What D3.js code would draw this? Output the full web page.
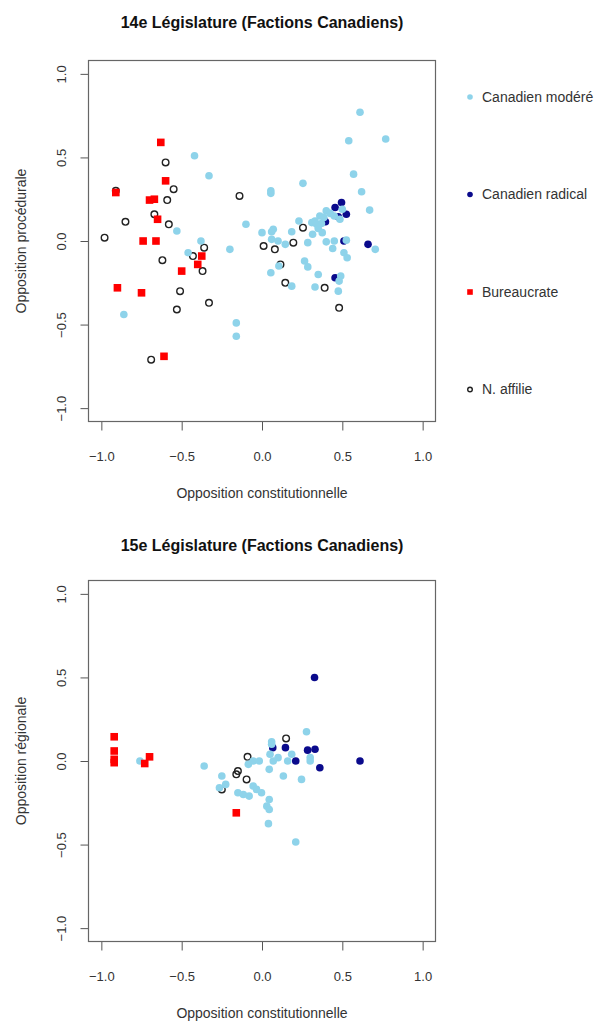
<!DOCTYPE html>
<html>
<head>
<meta charset="utf-8">
<script src="https://cdn.jsdelivr.net/npm/d3@7"></script>
<style>
  body { margin: 0; background: #fff; }
  svg { display: block; font-family: "Liberation Sans", Arial, sans-serif; }
</style>
</head>
<body>
<div id="chart"></div>
<script>
// ---------------------------
// Data
// ---------------------------
const ticks = [-1, -0.5, 0, 0.5, 1];
const factions = ["Canadien modéré", "Canadien radical", "Bureaucrate", "N. affilie"];

// 14e législature: [opposition constitutionnelle, opposition procédurale]
const moderes14 = [
  [-0.42, 0.51], [-0.33, 0.39], [-0.53, 0.06], [-0.10, 0.10], [0.0, 0.05], [-0.38, 0.0],
  [-0.46, -0.07], [-0.20, -0.05], [-0.86, -0.44], [-0.16, -0.49], [-0.16, -0.57],
  [0.61, 0.77], [0.54, 0.60], [0.77, 0.61], [0.57, 0.40], [0.255, 0.345], [0.055, 0.30],
  [0.055, 0.285], [0.62, 0.295], [0.67, 0.185], [0.40, 0.18], [0.425, 0.165], [0.36, 0.15],
  [0.31, 0.11], [0.34, 0.10], [0.37, 0.105], [0.385, 0.14], [0.23, 0.12], [0.185, 0.055],
  [0.315, 0.04], [0.375, 0.05], [0.06, 0.055], [0.07, 0.07], [0.06, 0.01], [0.10, 0.0],
  [0.145, -0.02], [0.285, -0.01], [0.40, -0.005], [0.45, 0.0], [0.525, 0.005], [0.44, -0.045],
  [0.705, -0.05], [0.51, -0.07], [0.53, -0.10], [0.265, -0.12], [0.285, -0.155], [0.105, -0.15],
  [0.055, -0.19], [0.35, -0.20], [0.49, -0.21], [0.48, -0.24], [0.475, -0.30], [0.185, -0.27],
  [0.33, -0.275], [0.33, 0.12], [0.35, 0.075], [0.45, 0.15], [0.485, 0.13], [0.50, 0.19]
];
const radicaux14 = [
  [0.495, 0.23], [0.455, 0.20], [0.525, 0.16], [0.475, 0.145], [0.395, 0.115],
  [0.51, 0.0], [0.66, -0.02], [0.455, -0.22]
];
const bureaucrates14 = [
  [-0.63, 0.59], [-0.60, 0.36], [-0.91, 0.29], [-0.70, 0.245], [-0.67, 0.25], [-0.65, 0.13],
  [-0.74, 0.0], [-0.66, 0.0], [-0.375, -0.09], [-0.40, -0.14], [-0.50, -0.18], [-0.90, -0.28],
  [-0.75, -0.31], [-0.61, -0.69]
];
const affilies14 = [
  [-0.60, 0.47], [-0.55, 0.31], [-0.91, 0.30], [-0.59, 0.245], [-0.14, 0.27], [-0.67, 0.16],
  [-0.85, 0.115], [-0.58, 0.10], [-0.98, 0.02], [-0.36, -0.04], [-0.43, -0.09], [-0.37, -0.18],
  [-0.62, -0.115], [-0.51, -0.30], [-0.33, -0.37], [-0.53, -0.41], [-0.69, -0.71], [0.01, -0.03],
  [0.255, 0.08], [0.195, -0.01], [0.08, -0.05], [0.115, -0.14], [0.145, -0.25], [0.39, -0.28],
  [0.48, -0.40]
];

// 15e législature: [opposition constitutionnelle, opposition régionale]
const moderes15 = [
  [-0.76, 0.0], [-0.36, -0.03], [-0.25, -0.09], [-0.265, -0.16], [-0.226, -0.14], [-0.085, -0.02],
  [-0.055, 0.0], [-0.017, 0.0], [-0.055, -0.15], [-0.034, -0.17], [-0.003, -0.19], [-0.15, -0.19],
  [-0.116, -0.20], [-0.08, -0.21], [0.03, -0.27], [0.045, -0.29], [0.045, -0.23], [0.04, -0.375],
  [0.21, -0.485], [0.277, 0.175], [0.06, 0.115], [0.06, 0.10], [0.05, 0.04], [0.10, 0.02],
  [0.185, 0.04], [0.16, 0.0], [0.30, 0.02], [0.30, 0.0], [0.07, 0.0], [0.045, -0.05],
  [0.133, -0.09], [0.246, -0.11]
];
const radicaux15 = [
  [0.327, 0.50], [0.067, 0.08], [0.146, 0.08], [0.284, 0.065], [0.33, 0.07],
  [0.21, 0.0], [0.36, -0.04], [0.61, 0.0]
];
const bureaucrates15 = [
  [-0.92, 0.145], [-0.92, 0.06], [-0.92, 0.01], [-0.92, -0.01], [-0.70, 0.025],
  [-0.73, -0.015], [-0.16, -0.31]
];
const affilies15 = [
  [0.15, 0.135], [-0.09, 0.025], [-0.15, -0.06], [-0.16, -0.08], [-0.096, -0.11], [-0.25, -0.17]
];

// ---------------------------
// Setup
// ---------------------------
const width = 616;
const height = 1024;

const color = {
  "Canadien modéré": "#8ed3ea",
  "Canadien radical": "#0a0a8c",
  "Bureaucrate": "#ff0000",
  "N. affilie": "#222"
};

const svg = d3.select("#chart")
  .append("svg")
  .attr("width", width)
  .attr("height", height);

const panels = [
  {
    title: "14e Législature (Factions Canadiens)",
    ylabel: "Opposition procédurale",
    top: 60.5,
    series: { "Canadien modéré": moderes14, "Canadien radical": radicaux14, "Bureaucrate": bureaucrates14, "N. affilie": affilies14 },
    legend: true
  },
  {
    title: "15e Législature (Factions Canadiens)",
    ylabel: "Opposition régionale",
    top: 580.5,
    series: { "Canadien modéré": moderes15, "Canadien radical": radicaux15, "Bureaucrate": bureaucrates15, "N. affilie": affilies15 },
    legend: false
  }
];

const boxLeft = 88.5, boxRight = 435.5, boxH = 361;
// draw order: open circles first, red squares last
const drawOrder = ["N. affilie", "Canadien radical", "Canadien modéré", "Bureaucrate"];

function drawMarker(sel, faction, r) {
  if (faction === "Bureaucrate") {
    sel.append("rect")
      .attr("x", -r).attr("y", -r)
      .attr("width", 2 * r).attr("height", 2 * r)
      .attr("fill", color[faction]);
  } else if (faction === "N. affilie") {
    sel.append("circle")
      .attr("r", r - 0.5)
      .attr("fill", "none")
      .attr("stroke", color[faction])
      .attr("stroke-width", 1.4);
  } else {
    sel.append("circle")
      .attr("r", r)
      .attr("fill", color[faction]);
  }
}

panels.forEach((p, pi) => {
  const x = d3.scaleLinear().domain([-1.08, 1.08]).range([boxLeft, boxRight]);
  const y = d3.scaleLinear().domain([-1.08, 1.08]).range([p.top + boxH, p.top]);
  const g = svg.append("g");

  // title
  g.append("text")
    .attr("x", (boxLeft + boxRight) / 2)
    .attr("y", p.top - (pi === 0 ? 33 : 30))
    .attr("text-anchor", "middle")
    .attr("font-size", 16)
    .attr("font-weight", "bold")
    .attr("fill", "#111")
    .text(p.title);

  // axes
  const xAxis = g.append("g")
    .attr("transform", `translate(0,${p.top + boxH})`)
    .call(d3.axisBottom(x).tickValues(ticks).tickSize(9).tickFormat(d3.format(".1f")));
  xAxis.select(".domain").remove();
  xAxis.selectAll("line").attr("stroke", "#555");
  xAxis.selectAll("text")
    .attr("y", 30).attr("dy", "0.71em")
    .attr("font-size", 13).attr("fill", "#333")
    .attr("font-family", "Liberation Sans, Arial, sans-serif");

  const yAxis = g.append("g")
    .attr("transform", `translate(${boxLeft},0)`)
    .call(d3.axisLeft(y).tickValues(ticks).tickSize(8).tickFormat(d3.format(".1f")));
  yAxis.select(".domain").remove();
  yAxis.selectAll("line").attr("stroke", "#555");
  yAxis.selectAll("text")
    .attr("transform", "rotate(-90)")
    .attr("x", 0).attr("y", -23).attr("dy", null)
    .attr("text-anchor", "middle")
    .attr("font-size", 13).attr("fill", "#333")
    .attr("font-family", "Liberation Sans, Arial, sans-serif");

  // box
  g.append("rect")
    .attr("x", boxLeft).attr("y", p.top)
    .attr("width", boxRight - boxLeft).attr("height", boxH)
    .attr("fill", "none")
    .attr("stroke", "#666")
    .attr("stroke-width", 1.2);

  // axis titles
  g.append("text")
    .attr("x", (boxLeft + boxRight) / 2)
    .attr("y", p.top + boxH + 76)
    .attr("text-anchor", "middle")
    .attr("font-size", 14)
    .attr("fill", "#333")
    .text("Opposition constitutionnelle");

  g.append("text")
    .attr("transform", `translate(26,${p.top + boxH / 2}) rotate(-90)`)
    .attr("text-anchor", "middle")
    .attr("font-size", 14)
    .attr("fill", "#333")
    .text(p.ylabel);

  // points
  drawOrder.forEach(f => {
    g.append("g")
      .selectAll("g")
      .data(p.series[f])
      .join("g")
      .attr("transform", d => `translate(${x(d[0])},${y(d[1])})`)
      .each(function() { drawMarker(d3.select(this), f, 3.8); });
  });

  // legend
  if (p.legend) {
    const legendItem = svg.append("g")
      .selectAll("g")
      .data(factions)
      .join("g")
      .attr("transform", (d, i) => `translate(470,${97 + i * 97.5})`);

    legendItem.each(function(d) { drawMarker(d3.select(this), d, 2.8); });

    legendItem.append("text")
      .attr("x", 12)
      .attr("dy", "0.35em")
      .attr("font-size", 14)
      .attr("fill", "#333")
      .text(d => d);
  }
});
</script>
</body>
</html>
